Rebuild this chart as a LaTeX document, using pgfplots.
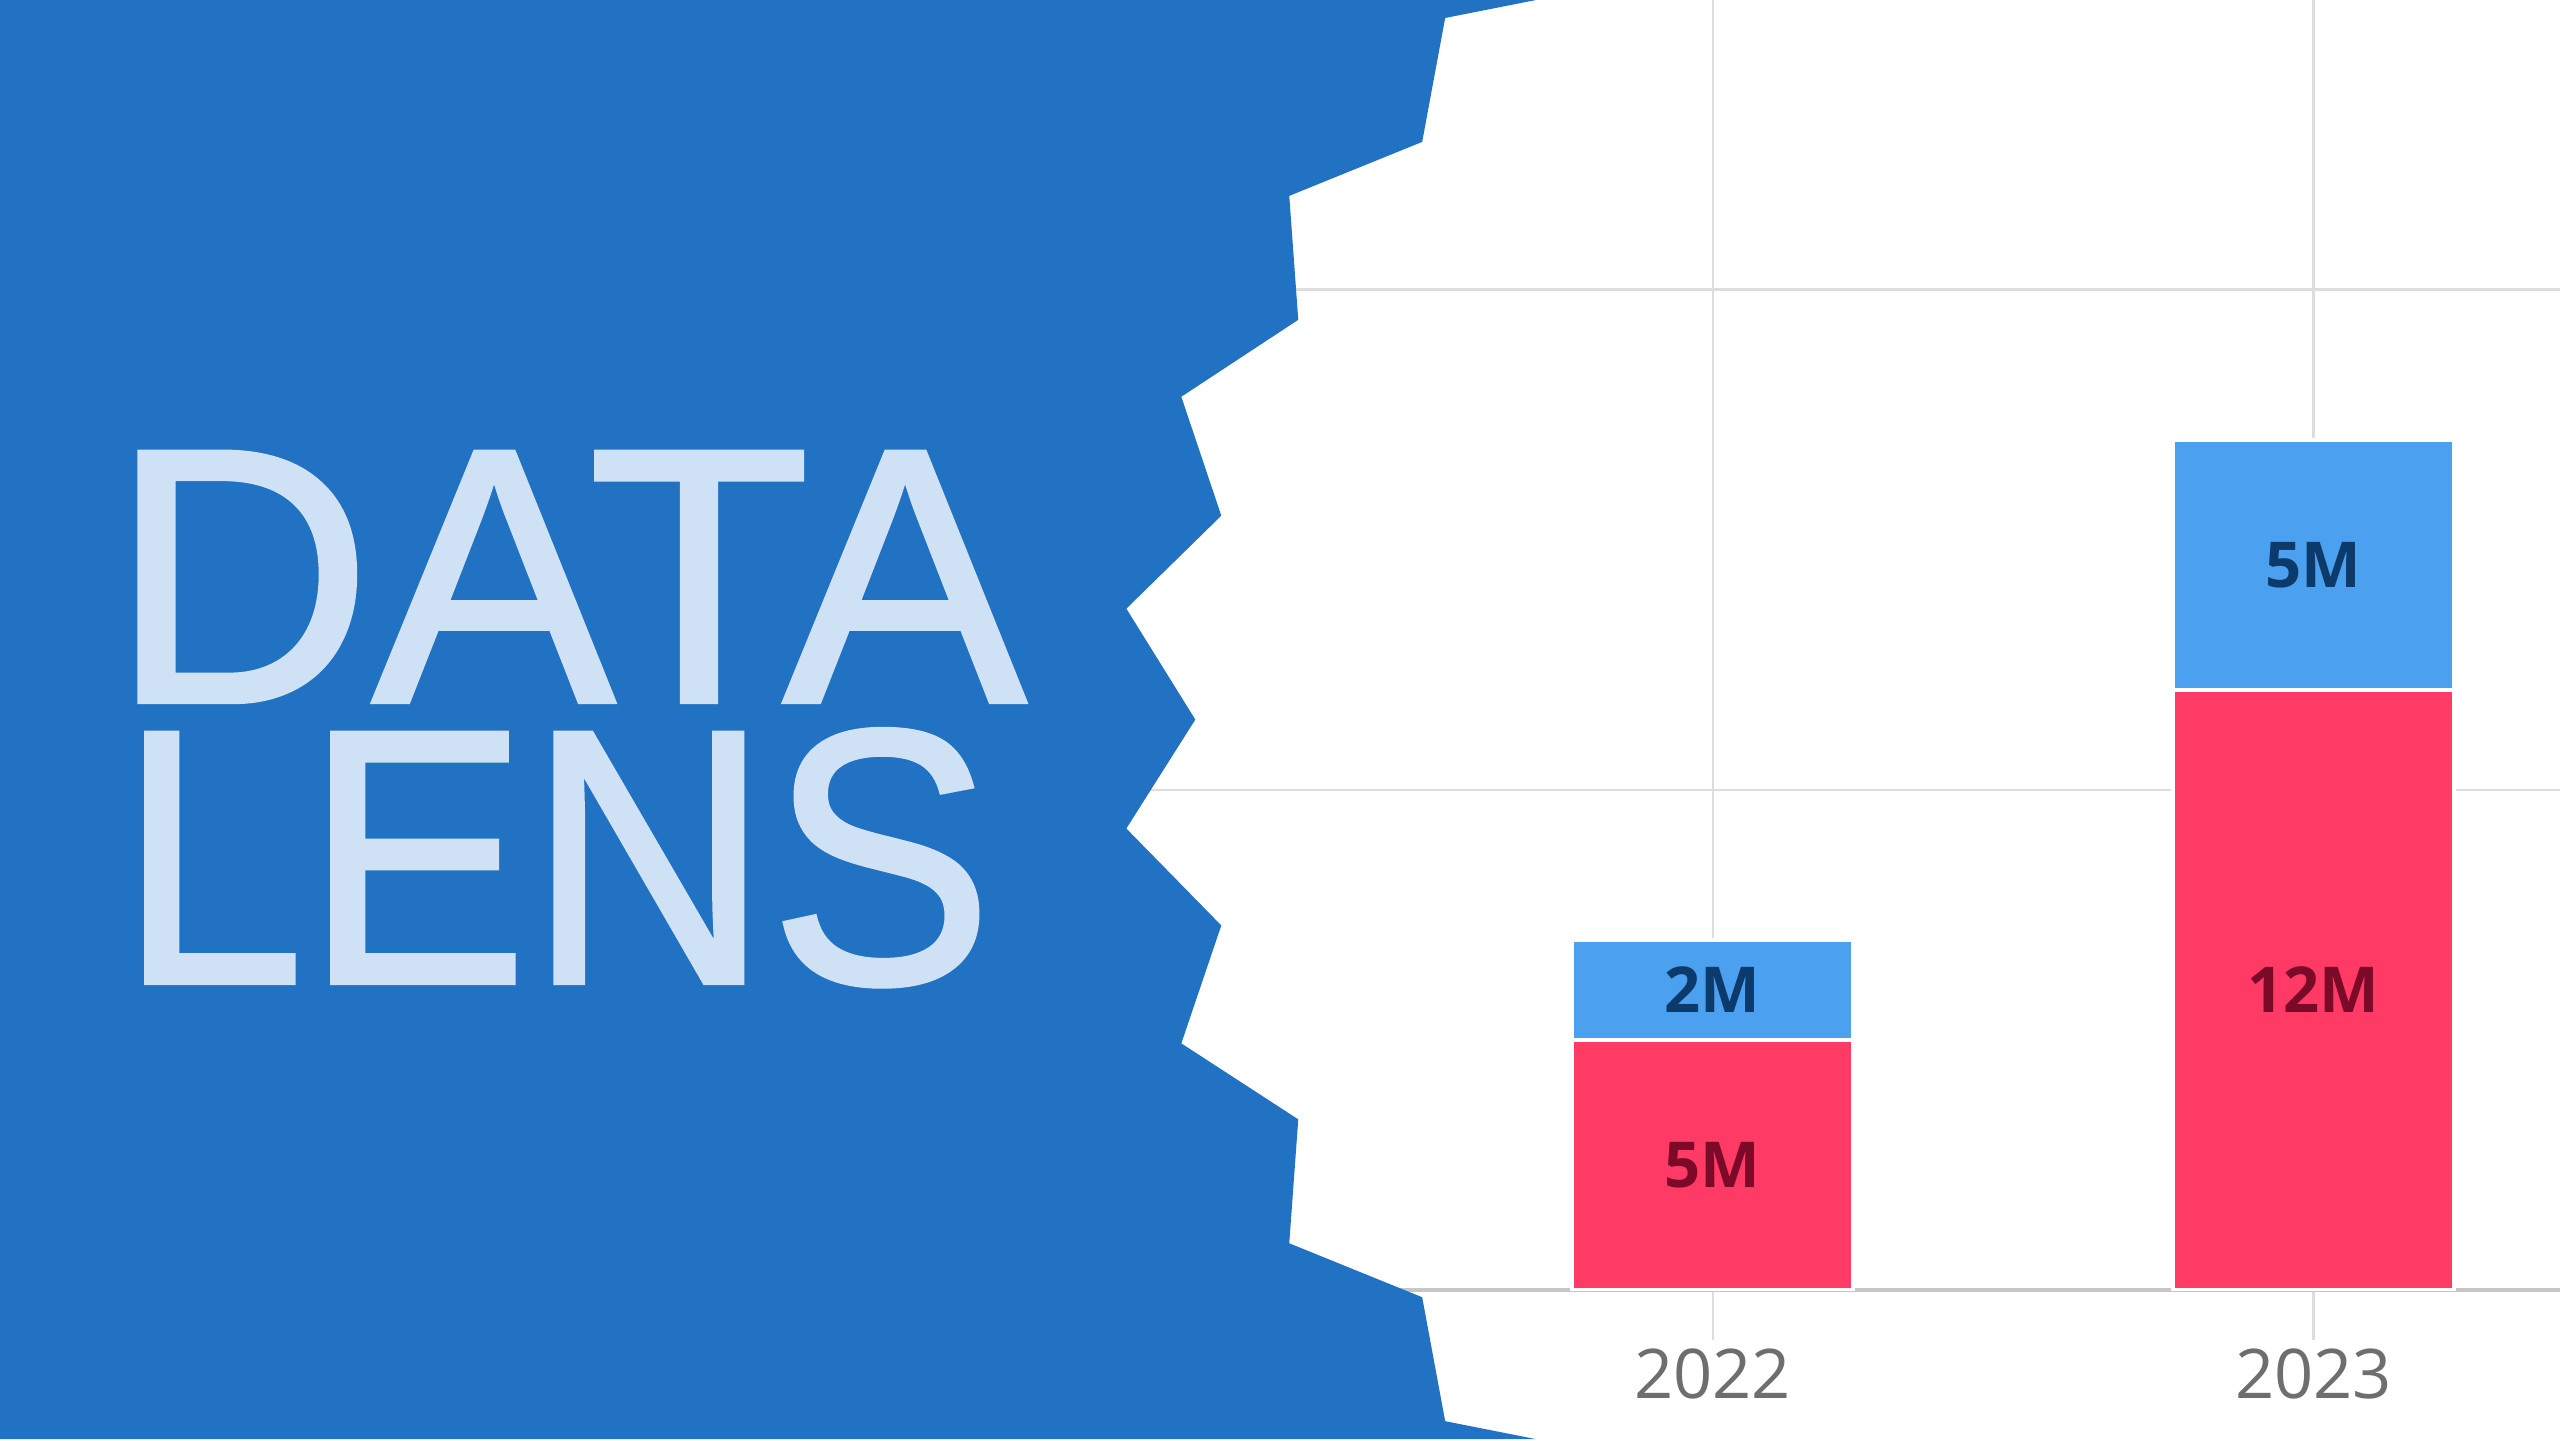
\documentclass[border=0pt]{standalone}
\usepackage{pgfplots}
\pgfplotsset{compat=1.18}
\usepackage{fontspec}
\setmainfont{Open Sans}
\newfontfamily\titlefont{Liberation Sans}[FakeBold=1.2]

\definecolor{panelblue}{HTML}{2272C3}
\definecolor{titletext}{HTML}{CFE2F5}
\definecolor{barred}{HTML}{FF3A64}
\definecolor{barblue}{HTML}{4BA0EF}
\definecolor{gridgray}{HTML}{DDDDDD}
\definecolor{basegray}{HTML}{C6C6C6}
\definecolor{ticktext}{HTML}{6E6E6E}
\definecolor{redlabel}{HTML}{7A0A28}
\definecolor{bluelabel}{HTML}{0C3A6B}

\begin{document}
\begin{tikzpicture}
\clip (0,0) rectangle (25.6,14.4);
\fill[white] (0,0) rectangle (25.6,14.4);

\begin{axis}[
  anchor=south west, at={(9.917cm,1.5cm)},
  x=6.008cm, y=0.5cm,
  xmin=-1.2, xmax=1.45,
  ymin=0, ymax=26,
  ybar stacked, bar width=2.81cm,
  xtick={0,1}, xticklabels={2022,2023},
  ytick={10,20}, yticklabels={},
  xmajorgrids, ymajorgrids,
  major x grid style={gridgray, line width=0.6pt},
  major y grid style={gridgray, line width=0.85pt},
  axis x line*=bottom, axis y line*=left,
  x axis line style={basegray, line width=0.9pt},
  y axis line style={draw=none},
  ytick style={draw=none},
  xtick style={gridgray, line width=0.6pt},
  tick align=outside, major tick length=0.5cm,
  xticklabel style={font=\fontsize{19.5}{20}\selectfont, text=ticktext, anchor=center, yshift=-0.34cm},
  point meta=explicit symbolic,
  nodes near coords={\pgfplotspointmeta},
  % with anchor=center the labels land in the middle of each segment
  every node near coord/.append style={anchor=center,
    font=\bfseries\fontsize{18}{18}\selectfont},
]
  % lower segment
  \addplot[fill=barred, draw=white, line width=1.2pt,
    every node near coord/.append style={text=redlabel}]
    coordinates {(0,5) [5M] (1,12) [12M]};
  % upper segment
  \addplot[fill=barblue, draw=white, line width=1.2pt,
    every node near coord/.append style={text=bluelabel}]
    coordinates {(0,2) [2M] (1,5) [5M]};
\end{axis}

% jagged blue panel on the left
\begin{scope}[x=0.01cm, y=-0.01cm, shift={(0,14.4cm)}]
\fill[panelblue] (0,0) -- (1537,0) -- (1446,18) -- (1423,142) -- (1290,196)
  -- (1299,320) -- (1182,397) -- (1222,516) -- (1127,609) -- (1196,720)
  -- (1127,829) -- (1222,926) -- (1182,1044) -- (1299,1120) -- (1290,1244)
  -- (1423,1298) -- (1446,1422) -- (1537,1440) -- (0,1440) -- cycle;
\end{scope}

\node[anchor=base west, inner sep=0, text depth=0pt, text=titletext,
  font=\titlefont\fontsize{103.5}{100}\selectfont] at (1.09,7.38) {DATA};
\node[anchor=base west, inner sep=0, text depth=0pt, text=titletext, xscale=0.92, transform shape,
  font=\titlefont\fontsize{103.5}{100}\selectfont] at (1.18,4.57) {LENS};
\end{tikzpicture}
\end{document}
